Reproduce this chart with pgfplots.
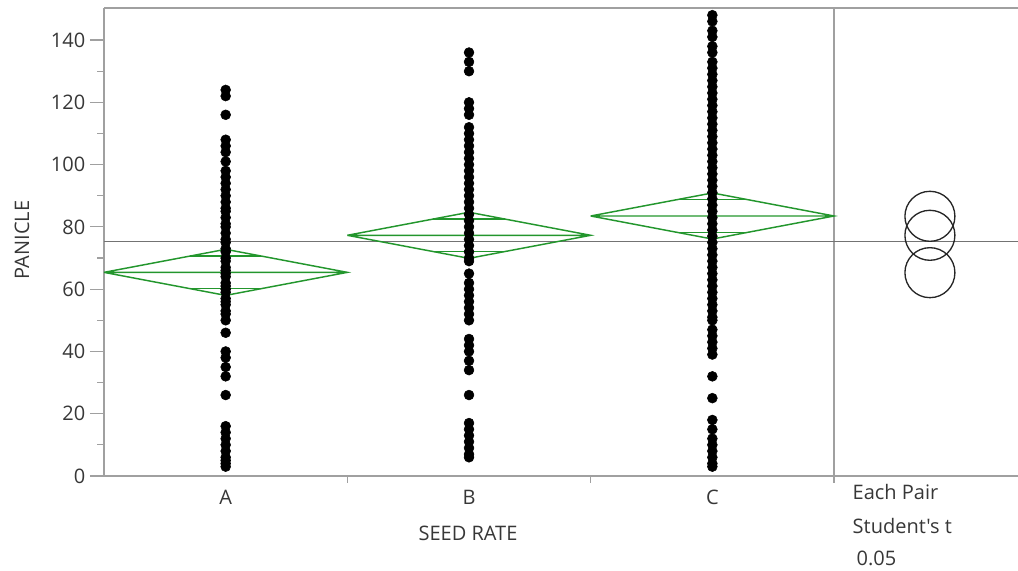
\documentclass[border=0pt]{standalone}
\usepackage{fontspec}
\setmainfont{Open Sans}
\newfontfamily\plainfont{Open Sans}
\usepackage{pgfplots}
\usepackage{pgfplotstable}
\pgfplotsset{compat=1.18}
\definecolor{axgray}{RGB}{160,160,160}
\definecolor{txtgray}{RGB}{55,55,55}
\definecolor{dgreen}{RGB}{35,150,45}

\pgfplotstableread{
x y
0 124
0 122
0 116
0 108
0 106
0 104
0 101
0 98
0 96
0 94
0 92
0 90
0 88
0 86
0 85
0 83
0 81
0 80
0 78
0 76
0 75
0 73
0 72
0 70
0 69
0 67
0 66
0 65
0 64
0 62
0 61
0 60
0 59
0 57
0 56
0 55
0 53
0 52
0 50
0 46
0 40
0 38
0 35
0 32
0 26
0 16
0 14
0 12
0 10
0 8
0 6
0 5
0 4
0 3
}\dataA

\pgfplotstableread{
x y
1 136
1 133
1 130
1 120
1 118
1 116
1 112
1 110
1 108
1 106
1 104
1 102
1 100
1 98
1 96
1 94
1 92
1 90
1 88
1 86
1 84
1 82
1 80
1 78
1 76
1 74
1 72
1 70
1 69
1 65
1 62
1 60
1 58
1 56
1 54
1 52
1 50
1 44
1 42
1 40
1 37
1 34
1 26
1 17
1 15
1 13
1 11
1 9
1 7
1 6
}\dataB

\pgfplotstableread{
x y
2 148
2 146
2 143
2 141
2 138
2 136
2 133
2 131
2 129
2 127
2 125
2 123
2 121
2 119
2 117
2 115
2 113
2 111
2 109
2 107
2 105
2 103
2 101
2 99
2 97
2 95
2 93
2 91
2 89
2 87
2 85
2 83
2 81
2 79
2 77
2 75
2 73
2 71
2 69
2 67
2 65
2 63
2 61
2 59
2 57
2 55
2 53
2 51
2 50
2 47
2 45
2 43
2 41
2 39
2 32
2 25
2 18
2 15
2 12
2 10
2 8
2 6
2 4
2 3
}\dataC

\begin{document}
\begin{tikzpicture}[x=1pt,y=1pt]
\useasboundingbox (0,0) rectangle (763.5,428.25);
\begin{axis}[
  at={(78pt,71.25pt)}, anchor=south west,
  scale only axis, width=685.5pt, height=351pt,
  xmin=-0.5, xmax=3.256, ymin=0, ymax=150.3,
  clip=false,
  axis x line*=bottom, axis y line*=left,
  axis line style={axgray, line width=0.9pt, -},
  tick align=outside,
  ytick={0,20,...,140}, minor ytick={10,30,...,130},
  major tick length=10.5pt, minor tick length=5pt,
  ytick style={axgray, line width=0.9pt},
  xtick={0,1,2}, xticklabels={A,B,C},
  xtick style={draw=none},
  ticklabel style={font=\fontsize{15pt}{17pt}\selectfont, text=txtgray},
  /pgf/number format/assume math mode=true,
  xticklabel style={yshift=3.5pt},
]
% top border and separator
\addplot[axgray, line width=0.9pt] coordinates {(-0.5,150.3) (3.256,150.3)};
\addplot[axgray, line width=0.9pt] coordinates {(2.5,0) (2.5,150.3)};
% separator ticks
\draw[axgray, line width=0.9pt] (axis cs:0.5,0) -- ([yshift=-5pt]axis cs:0.5,0);
\draw[axgray, line width=0.9pt] (axis cs:1.5,0) -- ([yshift=-5pt]axis cs:1.5,0);
\draw[axgray, line width=0.9pt] (axis cs:2.5,0) -- ([yshift=-5pt]axis cs:2.5,0);
% grand mean
\addplot[black!55, line width=1.1pt] coordinates {(-0.5,75.3) (3.256,75.3)};
% points
\addplot[only marks, mark=*, mark size=3.7pt, black] table {\dataA};
\addplot[only marks, mark=*, mark size=3.7pt, black] table {\dataB};
\addplot[only marks, mark=*, mark size=3.7pt, black] table {\dataC};
% means diamonds
\addplot[dgreen, line width=1.1pt] coordinates {(-0.5,65.4) (0,72.8) (0.5,65.4) (0,58.0) (-0.5,65.4) (0.5,65.4)};
\addplot[dgreen, line width=1.1pt] coordinates {(-0.146,70.63) (0.146,70.63)};
\addplot[dgreen, line width=1.1pt] coordinates {(-0.146,60.17) (0.146,60.17)};
\addplot[dgreen, line width=1.1pt] coordinates {(0.5,77.3) (1,84.7) (1.5,77.3) (1,69.9) (0.5,77.3) (1.5,77.3)};
\addplot[dgreen, line width=1.1pt] coordinates {(0.854,82.53) (1.146,82.53)};
\addplot[dgreen, line width=1.1pt] coordinates {(0.854,72.07) (1.146,72.07)};
\addplot[dgreen, line width=1.1pt] coordinates {(1.5,83.5) (2,90.9) (2.5,83.5) (2,76.1) (1.5,83.5) (2.5,83.5)};
\addplot[dgreen, line width=1.1pt] coordinates {(1.854,88.73) (2.146,88.73)};
\addplot[dgreen, line width=1.1pt] coordinates {(1.854,78.27) (2.146,78.27)};
% comparison circles
\addplot[only marks, mark=o, mark size=18.75pt, black!85, mark options={line width=1.0pt}] coordinates {(2.894,83.4) (2.894,77.3) (2.894,65.3)};
\end{axis}
\node[text=txtgray, font=\fontsize{15pt}{17pt}\selectfont] at (351,28.5) {SEED RATE};
\node[text=txtgray, font=\fontsize{15pt}{17pt}\selectfont, rotate=90] at (16.5,248.25) {PANICLE};
\node[text=txtgray, font=\fontsize{15pt}{17pt}\selectfont, anchor=base west] at (636,53.25) {Each Pair};
\node[text=txtgray, font=\fontsize{15pt}{17pt}\selectfont\plainfont, anchor=base west] at (636,27.75) {Student's t};
\node[text=txtgray, font=\fontsize{15pt}{17pt}\selectfont, anchor=base west] at (636,3.75) {\hspace{3pt}0.05};
\end{tikzpicture}
\end{document}
